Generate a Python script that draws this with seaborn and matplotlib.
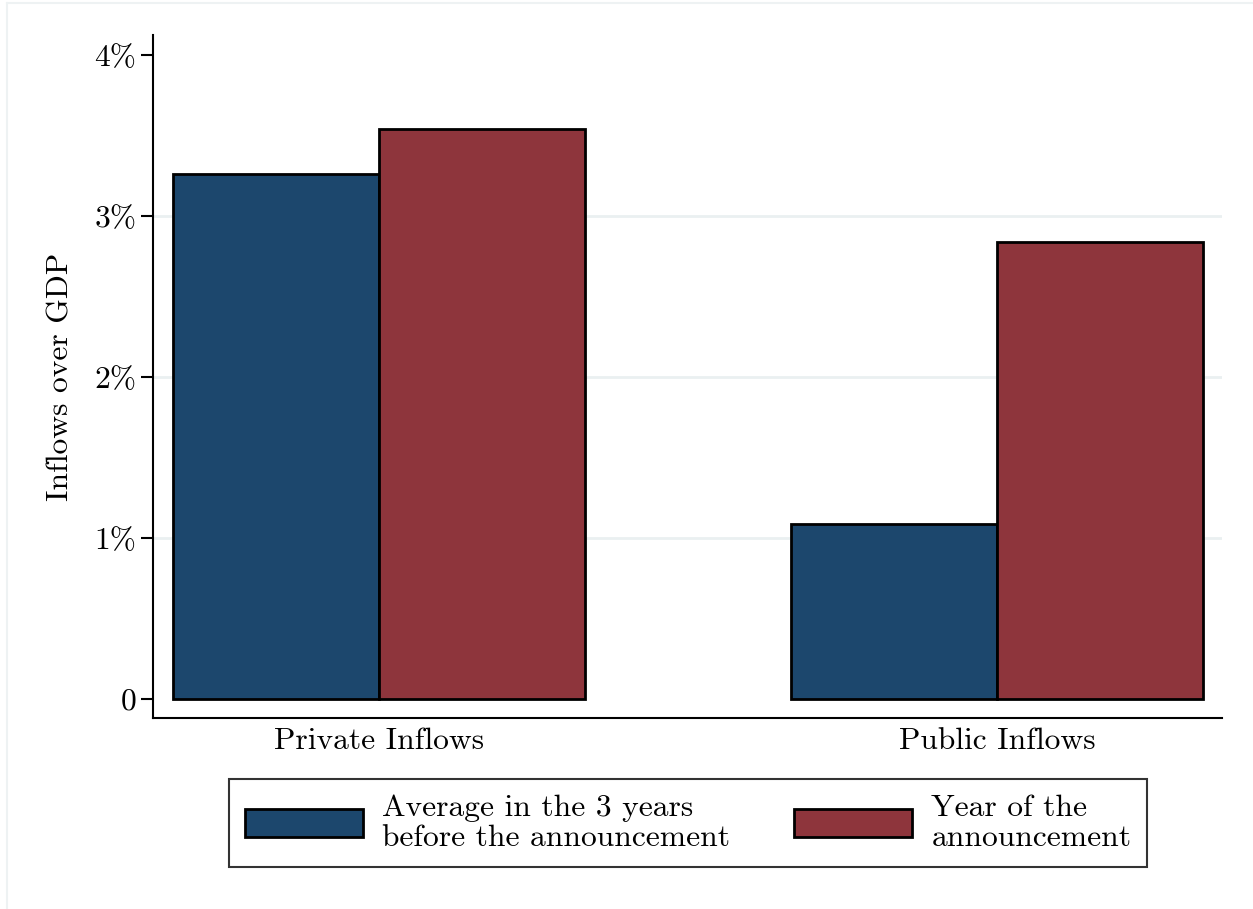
import matplotlib
matplotlib.use("Agg")
import matplotlib.pyplot as plt
import seaborn as sns
import pandas as pd
from matplotlib.lines import Line2D

categories = ["Private Inflows", "Public Inflows"]
series_names = ["Average in the 3 years\nbefore the announcement", "Year of the\nannouncement"]
before_values = [3.26, 1.09]
year_values = [3.54, 2.84]
ytick_values = [0, 1, 2, 3, 4]
ytick_labels = ["0", "1%", "2%", "3%", "4%"]
colors = ["#1c476d", "#8e353c"]

FS = 22.7

sns.set_theme(style="white")
plt.rcParams["font.family"] = ["cmr10", "DejaVu Serif"]
plt.rcParams["mathtext.fontset"] = "cm"
plt.rcParams["axes.formatter.use_mathtext"] = True
plt.rcParams["axes.unicode_minus"] = False
plt.rcParams["text.color"] = "black"
plt.rcParams["axes.labelcolor"] = "black"
plt.rcParams["xtick.color"] = "black"
plt.rcParams["ytick.color"] = "black"

df = pd.DataFrame({
    "cat": categories * 2,
    "series": [series_names[0]] * 2 + [series_names[1]] * 2,
    "value": before_values + year_values,
})

fig = plt.figure(figsize=(12.53, 9.09), dpi=100)
ax = fig.add_axes([153 / 1253, 1 - 718 / 909, (1222 - 153) / 1253, (718 - 35) / 909])

sns.barplot(data=df, x="cat", y="value", hue="series", palette=colors,
            width=0.6667, gap=0, edgecolor="black", linewidth=2, saturation=1,
            ax=ax, errorbar=None, zorder=3)

ax.set_xlim(-0.3657, 1.364)
ax.set_ylim(-0.118, 4.124)
ax.set_yticks(ytick_values)
ax.set_yticklabels(ytick_labels, fontsize=FS)
ax.tick_params(axis="y", which="both", left=True, length=9, width=1.5, color="black", pad=3)
ax.tick_params(axis="x", bottom=False, labelsize=FS, pad=1)
ax.set_xlabel("")
ax.set_ylabel("Inflows over GDP", fontsize=FS, labelpad=14)

ax.yaxis.grid(True, color="#eaf0f1", linewidth=2, zorder=0)
ax.set_axisbelow(True)
glines = ax.get_ygridlines()
glines[0].set_visible(False)
glines[-1].set_visible(False)

for side in ["top", "right"]:
    ax.spines[side].set_visible(False)
for side in ["left", "bottom"]:
    ax.spines[side].set_color("black")
    ax.spines[side].set_linewidth(1.5)

handles, labels = ax.get_legend_handles_labels()
ax.legend_.remove()
leg = fig.legend(handles, labels, loc="center", bbox_to_anchor=(688 / 1253, 1 - 823 / 909),
                 ncol=2, fontsize=FS, frameon=True, fancybox=False, edgecolor="black",
                 handlelength=3.75, handleheight=1.0, columnspacing=2.0, handletextpad=0.62,
                 borderpad=0.5, labelspacing=0.3, borderaxespad=0)
leg.get_frame().set_linewidth(1.5)
for t in leg.get_texts():
    t.set_linespacing(1.1)
for p in leg.get_patches():
    p.set_linewidth(2)

fig.add_artist(Line2D([7 / 1253, 1], [1 - 3 / 909, 1 - 3 / 909], color="#eef2f3", linewidth=1.5))
fig.add_artist(Line2D([7 / 1253, 7 / 1253], [0, 1 - 3 / 909], color="#eef2f3", linewidth=1.5))

fig.savefig("out.png", dpi=100)
